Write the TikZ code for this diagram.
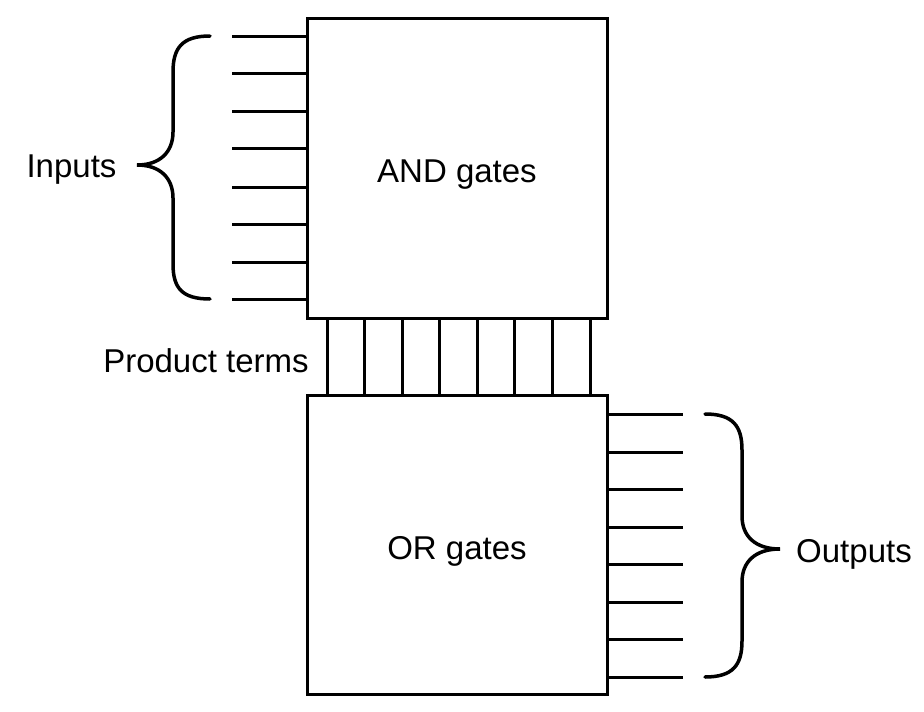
\documentclass[tikz,border=0pt]{standalone}
\usepackage{fontspec}
\setmainfont{Liberation Sans}
\begin{document}
\begin{tikzpicture}[x=1pt,y=-1pt,
  gatebox/.style={draw, line width=3pt, minimum width=300pt, minimum height=300pt, inner sep=0pt, outer sep=0pt},
  wire/.style={line width=3pt},
  brace/.style={line width=3.5pt, line cap=round},
  lbl/.style={font=\fontsize{33}{36}\selectfont, inner sep=0pt}]
\useasboundingbox (0,0) rectangle (924,712);
\node[gatebox] (and) at (457,168) {};
\node[gatebox, minimum height=299pt] (or) at (457,544.5) {};
\node[lbl] (andl) at (457,175) {AND gates};
\node[lbl] (orl) at (457,551) {OR gates};
\node[lbl] (inl) at (71.5,170) {Inputs};
\node[lbl] (outl) at (854,554) {Outputs};
\node[lbl] (prodl) at (206,361) {Product terms};
% inputs
\foreach \i/\y in {1/36,2/73,3/111,4/148,5/187,6/224,7/262,8/299}{
  \coordinate (in\i) at (232,\y);
  \draw[wire] (in\i) -- (in\i -| and.west);
}
% product terms
\foreach \i/\x in {1/327,2/364,3/402,4/439,5/477,6/514,7/552,8/590}{
  \coordinate (p\i) at (\x,356);
  \draw[wire] (and.south -| p\i) -- (or.north -| p\i);
}
% outputs
\foreach \i/\y in {1/414,2/452,3/489,4/527,5/564,6/602,7/639,8/677}{
  \coordinate (out\i) at (683,\y);
  \draw[wire] (out\i -| or.east) -- (out\i);
}
% input brace
\coordinate (bt) at (210,36);
\coordinate (bb) at (210,299);
\coordinate (btip) at (137,165);
\draw[brace] (bt) .. controls (182,36) and (173,48) .. (173,72) -- (173,132)
  .. controls (173,152) and (160,165) .. (btip)
  .. controls (160,165) and (173,178) .. (173,198) -- (173,264)
  .. controls (173,288) and (182,299) .. (bb);
% output brace
\coordinate (ot) at (705,414);
\coordinate (ob) at (705,677);
\coordinate (otip) at (780,549);
\draw[brace] (ot) .. controls (733,414) and (742,426) .. (742,450) -- (742,516)
  .. controls (742,536) and (755,549) .. (otip)
  .. controls (755,549) and (742,562) .. (742,582) -- (742,641)
  .. controls (742,665) and (733,677) .. (ob);
\end{tikzpicture}
\end{document}
